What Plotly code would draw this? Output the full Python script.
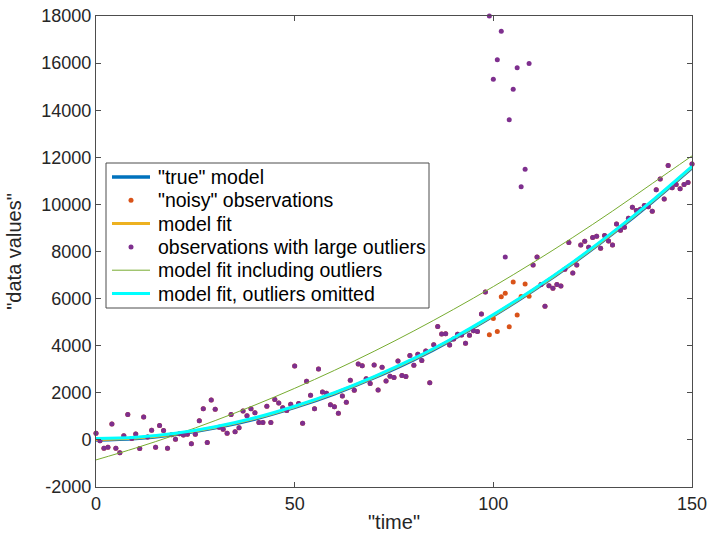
import plotly.graph_objects as go

# ---------------- data ----------------
x_obs = list(range(0, 151))

# "noisy" observations (hidden under the purple ones except near x=99..108)
noisy_obs = [
    280, -40, -350, -310, 680, -350, -550, 180, 1080, 60,
    250, -360, 970, 120, 410, -310, 610, 400, -350, 220,
    30, 260, 210, 240, -160, 240, 810, 1320, -110, 1690,
    1300, 540, 450, 280, 1080, 350, 515, 1225, 1030, 1325,
    1150, 735, 735, 1430, 735, 1720, 1565, 1370, 1250, 1510,
    3140, 1550, 710, 2490, 1900, 1320, 3010, 2030, 1980, 1490,
    1410, 1130, 1860, 1600, 2530, 2110, 3220, 3150, 2600, 2400,
    3180, 2120, 3080, 2500, 2700, 2650, 3350, 2730, 2690, 3580,
    3170, 3640, 3370, 3780, 2430, 4040, 4810, 4500, 4510, 4030,
    4280, 4490, 4450, 4100, 4440, 4640, 4600, 5350, 6280, 4460,
    5150, 4600, 6080, 6230, 4800, 6710, 5300, 6090, 6620, 6100,
    7430, 7770, 6600, 5680, 6550, 6440, 6600, 6530, 7250, 8380,
    7090, 7430, 8280, 8440, 8180, 8590, 8650, 8140, 8680, 8450,
    8280, 9170, 8900, 9030, 9410, 9880, 9740, 9790, 9950, 9900,
    9710, 10620, 11080, 10230, 11650, 10710, 10850, 10660, 10850, 10930,
    11720,
]

# large outliers replacing some observations
outlier_x = [99, 100, 101, 102, 103, 104, 105, 106, 107, 108, 109]
outlier_vals = [18000, 15310, 16140, 17350, 7770, 13590, 14890, 15800, 10750, 11490, 15980]

x_curve = [0, 10, 20, 30, 40, 50, 60, 70, 80, 90, 100, 110, 120, 130, 140, 150]
true_model = [0, 60, 230, 510, 890, 1380, 1960, 2640, 3410, 4290, 5270, 6340, 7500, 8760, 10110, 11560]
model_fit = [20, 85, 255, 535, 915, 1405, 1985, 2665, 3435, 4315, 5295, 6365, 7525, 8785, 10135, 11585]
fit_incl_outliers = [-850, -344, 212, 820, 1480, 2190, 2952, 3764, 4628, 5544, 6510, 7528, 8596, 9716, 10888, 12060]
fit_omit_outliers = [60, 110, 280, 560, 940, 1430, 2010, 2690, 3460, 4340, 5320, 6390, 7550, 8810, 10160, 11610]

x_ticks = [0, 50, 100, 150]
y_ticks = [-2000, 0, 2000, 4000, 6000, 8000, 10000, 12000, 14000, 16000, 18000]

legend_labels = ['"true" model', '"noisy" observations', 'model fit',
                 'observations with large outliers', 'model fit including outliers',
                 'model fit, outliers omitted']

# build outlier series
obs_with_outliers = list(noisy_obs)
for xi, v in zip(outlier_x, outlier_vals):
    obs_with_outliers[x_obs.index(xi)] = v

FONT = "Liberation Sans, Arial, Helvetica, sans-serif"
TXT = "#262626"
AX = "#4d4d4d"

# plot-area geometry in pixels
W, H = 708, 538
L, R, T, B = 96, 16, 16, 51
PW, PH = W - L - R, H - T - B


def xp(px):
    return (px - L) / PW


def yp(py):
    return (H - B - py) / PH


styles = [
    dict(kind="line", color="#0072BD", width=3.5),
    dict(kind="dot", color="#D95319"),
    dict(kind="line", color="#EDB120", width=3),
    dict(kind="dot", color="#7E2F8E"),
    dict(kind="line", color="#77AC30", width=1),
    dict(kind="line", color="#00FFFF", width=3),
]

fig = go.Figure()
fig.add_trace(go.Scatter(x=x_curve, y=true_model, mode="lines", name=legend_labels[0],
                         line=dict(color=styles[0]["color"], width=3.5, shape="spline")))
fig.add_trace(go.Scatter(x=x_obs, y=noisy_obs, mode="markers", name=legend_labels[1],
                         marker=dict(color=styles[1]["color"], size=5), cliponaxis=False))
fig.add_trace(go.Scatter(x=x_curve, y=model_fit, mode="lines", name=legend_labels[2],
                         line=dict(color=styles[2]["color"], width=3, shape="spline")))
fig.add_trace(go.Scatter(x=x_obs, y=obs_with_outliers, mode="markers", name=legend_labels[3],
                         marker=dict(color=styles[3]["color"], size=5), cliponaxis=False))
fig.add_trace(go.Scatter(x=x_curve, y=fit_incl_outliers, mode="lines", name=legend_labels[4],
                         line=dict(color=styles[4]["color"], width=1, shape="spline")))
fig.add_trace(go.Scatter(x=x_curve, y=fit_omit_outliers, mode="lines", name=legend_labels[5],
                         line=dict(color=styles[5]["color"], width=3, shape="spline")))

# ---- hand-drawn MATLAB-style legend ----
shapes = []
annotations = []
box_l, box_r, box_t, box_b = 106, 429, 163, 308
shapes.append(dict(type="rect", xref="paper", yref="paper",
                   x0=xp(box_l), x1=xp(box_r), y0=yp(box_b), y1=yp(box_t),
                   line=dict(color=AX, width=1), fillcolor="white", layer="above"))
row0, row_step = 177, 23.3
for i, (lab, st) in enumerate(zip(legend_labels, styles)):
    cy = row0 + i * row_step
    if st["kind"] == "line":
        shapes.append(dict(type="line", xref="paper", yref="paper",
                           x0=xp(112), x1=xp(150), y0=yp(cy), y1=yp(cy),
                           line=dict(color=st["color"], width=st["width"]), layer="above"))
    else:
        shapes.append(dict(type="circle", xref="paper", yref="paper",
                           xsizemode="pixel", ysizemode="pixel",
                           xanchor=xp(131), yanchor=yp(cy),
                           x0=-2.5, x1=2.5, y0=-2.5, y1=2.5,
                           line=dict(width=0), fillcolor=st["color"], layer="above"))
    annotations.append(dict(xref="paper", yref="paper", x=xp(156), y=yp(cy),
                            xanchor="left", yanchor="middle", showarrow=False,
                            text=lab, font=dict(family=FONT, size=19.5, color="black")))

axis_common = dict(showgrid=False, zeroline=False, showline=True, linecolor=AX, linewidth=1,
                   mirror="ticks", ticks="inside", ticklen=5, tickcolor=AX, tickwidth=1,
                   automargin=False,
                   tickfont=dict(family=FONT, size=18, color=TXT))

fig.update_layout(
    width=W, height=H,
    margin=dict(l=L, r=R, t=T, b=B, autoexpand=False),
    paper_bgcolor="white", plot_bgcolor="white",
    showlegend=False,
    shapes=shapes, annotations=annotations,
    xaxis=dict(range=[0, 150], tickvals=x_ticks, ticktext=[str(v) for v in x_ticks],
               title=dict(text='"time"', font=dict(family=FONT, size=20, color=TXT), standoff=2),
               **axis_common),
    yaxis=dict(range=[-2000, 18000], tickvals=y_ticks, ticktext=[str(v) for v in y_ticks],
               title=dict(text='"data values"', font=dict(family=FONT, size=20, color=TXT), standoff=14),
               **axis_common),
)

fig.write_html("out.html")
